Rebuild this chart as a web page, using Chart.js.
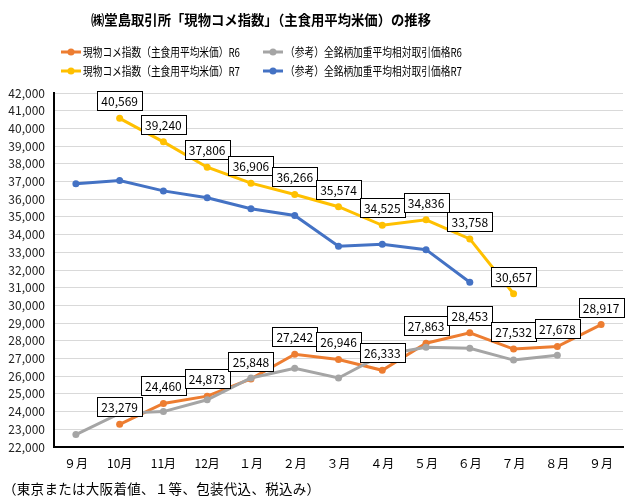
<!DOCTYPE html>
<html>
<head>
<meta charset="utf-8">
<script src="https://cdn.jsdelivr.net/npm/chart.js@4.4.1/dist/chart.umd.min.js"></script>
<style>
  html, body { margin: 0; padding: 0; background: #fff; }
  #wrap { width: 641px; height: 497px; }
</style>
</head>
<body>
<div id="wrap"><canvas id="riceChart"></canvas></div>
<script>
const months = ["９月", "10月", "11月", "12月", "１月", "２月", "３月", "４月", "５月", "６月", "７月", "８月", "９月"];

const indexR6 = [null, 23279, 24460, 24873, 25848, 27242, 26946, 26333, 27863, 28453, 27532, 27678, 28917];
const indexR7 = [null, 40569, 39240, 37806, 36906, 36266, 35574, 34525, 34836, 33758, 30657, null, null];
const refR6 = [22700, 23900, 24000, 24670, 25900, 26450, 25900, 27200, 27640, 27580, 26910, 27190, null];
const refR7 = [36870, 37060, 36470, 36080, 35460, 35080, 33340, 33450, 33150, 31310, null, null, null];

const JP_FONT = "'Noto Sans CJK JP', 'Noto Sans', sans-serif";

function fmt(v) {
  return v.toLocaleString("en-US");
}

function makeSet(label, data, color, showLabels) {
  return {
    label, data,
    borderColor: color, backgroundColor: color,
    borderWidth: 3, pointRadius: 3.5, pointHoverRadius: 3.5,
    pointBorderWidth: 0, tension: 0, spanGaps: false,
    showLabels
  };
}

// the gray/blue lines sit underneath the index lines
const datasets = [
  makeSet("（参考）全銘柄加重平均相対取引価格R6", refR6, "#A5A5A5", false),
  makeSet("（参考）全銘柄加重平均相対取引価格R7", refR7, "#4472C4", false),
  makeSet("現物コメ指数（主食用平均米価）R6", indexR6, "#ED7D31", true),
  makeSet("現物コメ指数（主食用平均米価）R7", indexR7, "#FFC000", true)
];

// value boxes above each index point
const boxLabels = {
  id: "boxLabels",
  afterDatasetsDraw(chart) {
    const c = chart.ctx;
    c.save();
    c.font = "12px " + JP_FONT;
    c.textAlign = "center";
    c.textBaseline = "middle";
    chart.data.datasets.forEach((ds, i) => {
      if (!ds.showLabels) return;
      chart.getDatasetMeta(i).data.forEach((pt, j) => {
        const v = ds.data[j];
        if (v == null) return;
        const txt = fmt(v);
        const w = Math.round(c.measureText(txt).width) + 8;
        const h = 19;
        const x = Math.round(pt.x - w / 2) + 0.5;
        const y = Math.round(pt.y - 8 - h) + 0.5;
        c.fillStyle = "#fff";
        c.fillRect(x, y, w, h);
        c.strokeStyle = "#000";
        c.lineWidth = 1;
        c.strokeRect(x, y, w, h);
        c.fillStyle = "#000";
        c.fillText(txt, pt.x, y + h / 2 + 0.5);
      });
    });
    c.restore();
  }
};

// title, two-column legend and footnote
const decorations = {
  id: "decorations",
  afterDraw(chart) {
    const c = chart.ctx;
    c.save();
    c.fillStyle = "#000";
    c.textBaseline = "middle";
    c.font = "bold 14px " + JP_FONT;
    c.textAlign = "center";
    c.fillText("㈱堂島取引所「現物コメ指数」（主食用平均米価）の推移", 261, 20, 340);

    const slots = [
      { ds: 2, x: 61, y: 52, w: 157 },
      { ds: 0, x: 263, y: 52, w: 177 },
      { ds: 3, x: 61, y: 71, w: 157 },
      { ds: 1, x: 263, y: 71, w: 177 }
    ];
    c.font = "12px " + JP_FONT;
    c.textAlign = "left";
    slots.forEach(s => {
      const ds = chart.data.datasets[s.ds];
      c.strokeStyle = ds.borderColor;
      c.lineWidth = 3;
      c.beginPath();
      c.moveTo(s.x, s.y);
      c.lineTo(s.x + 20, s.y);
      c.stroke();
      c.fillStyle = ds.borderColor;
      c.beginPath();
      c.arc(s.x + 10, s.y, 3.5, 0, Math.PI * 2);
      c.fill();
      c.fillStyle = "#000";
      c.fillText(ds.label, s.x + 22, s.y, s.w);
    });

    c.font = "13.5px " + JP_FONT;
    c.letterSpacing = "0.3px";
    c.fillText("（東京または大阪着値、１等、包装代込、税込み）", 3, 489);
    c.restore();
  }
};

new Chart(document.getElementById("riceChart"), {
  type: "line",
  data: { labels: months, datasets },
  options: {
    responsive: true,
    maintainAspectRatio: false,
    animation: false,
    layout: { padding: { top: 93, right: 18, left: 0, bottom: 0 } },
    plugins: {
      legend: { display: false },
      title: { display: false },
      tooltip: { enabled: false }
    },
    scales: {
      x: {
        offset: true,
        grid: { display: false, drawTicks: false },
        border: { display: true, color: "#000", width: 2 },
        ticks: { color: "#000", padding: 9, font: { family: JP_FONT, size: 12 } },
        afterFit: s => { s.height = 50; }
      },
      y: {
        min: 22000,
        max: 42000,
        grid: { color: "#d9d9d9", lineWidth: 1, drawTicks: false },
        border: { display: true, color: "#000", width: 2 },
        ticks: {
          stepSize: 1000,
          color: "#222",
          padding: 9,
          font: { family: JP_FONT, size: 12 },
          callback: v => fmt(v)
        },
        afterFit: s => { s.width = 54; }
      }
    }
  },
  plugins: [boxLabels, decorations]
});
</script>
</body>
</html>
